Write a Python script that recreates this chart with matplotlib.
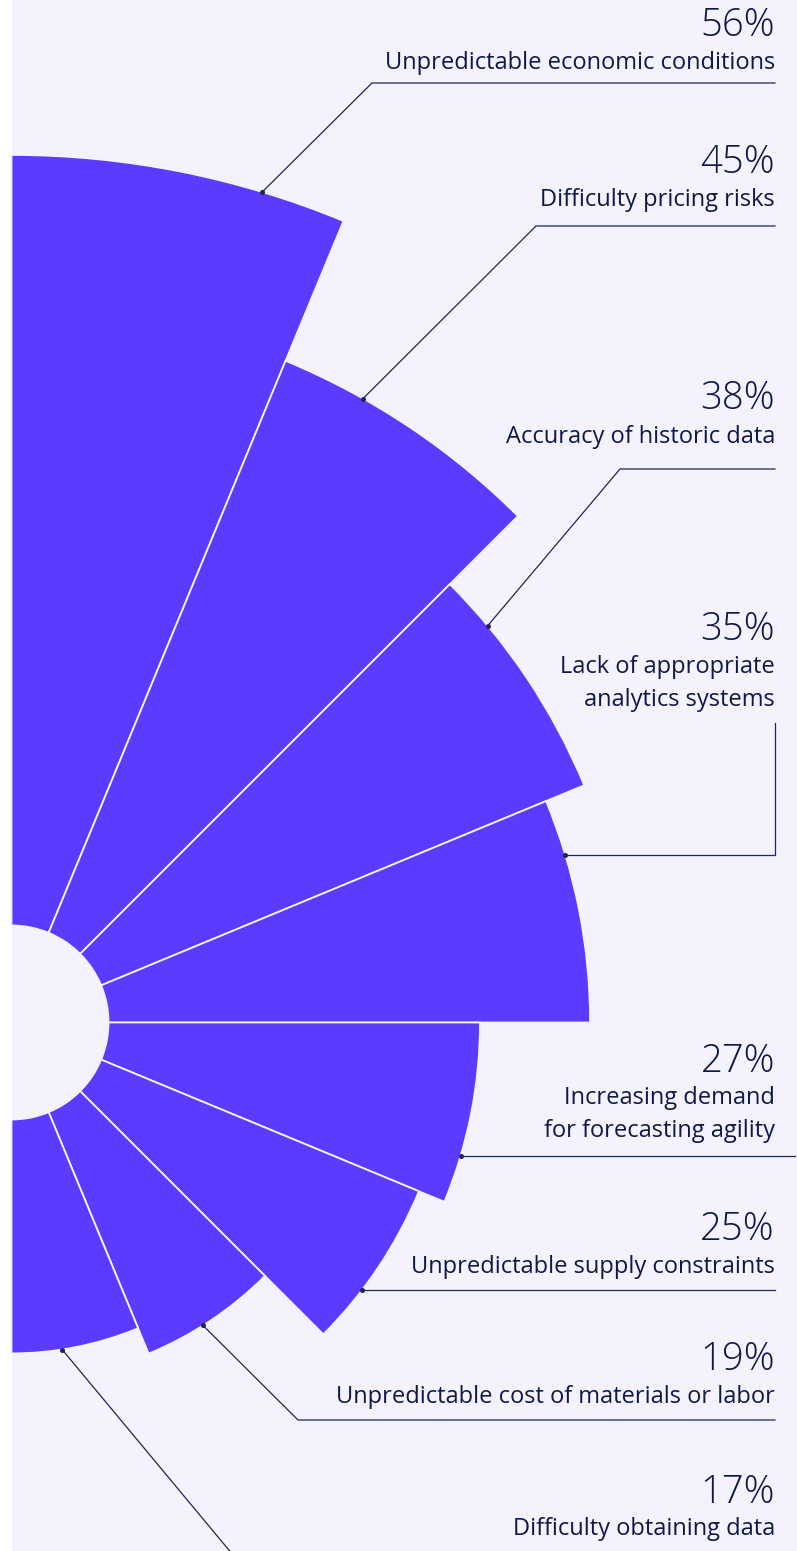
import numpy as np
import matplotlib
matplotlib.use("Agg")
import matplotlib.pyplot as plt

# --- data -------------------------------------------------------------
categories = [
    "Unpredictable economic conditions",
    "Difficulty pricing risks",
    "Accuracy of historic data",
    "Lack of appropriate\nanalytics systems",
    "Increasing demand\nfor forecasting agility",
    "Unpredictable supply constraints",
    "Unpredictable cost of materials or labor",
    "Difficulty obtaining data",
]
values = [56, 45, 38, 35, 27, 25, 19, 17]
value_labels = [f"{v}%" for v in values]

# --- style ------------------------------------------------------------
W, H, DPI = 797, 1551, 100
BG = "#F4F2FC"
BAR = "#5C3AFF"
INK = "#101848"
LINE = "#1E2656"
FONT = "Open Sans"

CX, CY = 11.5, 1022.5          # centre of the rose, pixels from top-left
PX_PER_UNIT = 13.76            # radial pixels per percentage point
HOLE = 97 / PX_PER_UNIT        # empty inner circle, in value units
RMAX = 70

fig = plt.figure(figsize=(W / DPI, H / DPI), dpi=DPI, facecolor="white")

# lavender panel behind everything
ax_bg = fig.add_axes([CX / W, 0, 1 - CX / W, 1], zorder=0)
ax_bg.set_facecolor(BG)
ax_bg.set_xticks([]); ax_bg.set_yticks([])
for s in ax_bg.spines.values():
    s.set_visible(False)

# polar axes, centred on (CX, CY)
R_PX = RMAX * PX_PER_UNIT
ax = fig.add_axes([(CX - R_PX) / W, (H - CY - R_PX) / H, 2 * R_PX / W, 2 * R_PX / H],
                  projection="polar", zorder=1)
ax.set_theta_zero_location("N")
ax.set_theta_direction(-1)
ax.set_rlim(0, RMAX)
ax.set_axis_off()

n = len(values)
step = np.pi / n
theta = (np.arange(n) + 0.5) * step
ax.bar(theta, values, width=step, bottom=HOLE, color=BAR,
       edgecolor=BG, linewidth=1.3, align="center")

# overlay in pixel coordinates for labels and leader lines
ov = fig.add_axes([0, 0, 1, 1], zorder=2)
ov.set_xlim(0, W)
ov.set_ylim(H, 0)
ov.set_axis_off()

# leader anchor angles on each bar's outer edge (degrees, clockwise from north)
anchor_deg = [16.8, 29.4, 50.2, 73.2, 106.5, 127.3, 147.7, 171.2]
# bend points of each leader after the anchor (pixels); None = anchor's y
leader_paths = [
    [(372, 83), (775, 83)],
    [(536, 226), (775, 226)],
    [(620, 469), (775, 469)],
    [(775, None), (775, 723)],
    [(795, None)],
    [(775, None)],
    [(298, 1420), (775, 1420)],
    [(243, 1567)],
]
# baselines of the percentage and of the first description line (pixels)
num_base = [36.5, 173.3, 409.3, 640, 1071.7, 1240, 1370, 1502.7]
lab_base = [69.3, 206, 443.3, 673.3, 1104, 1273.3, 1402.7, 1535]

to_ov = ov.transData.inverted()
for i in range(n):
    disp = ax.transData.transform((np.deg2rad(anchor_deg[i]), HOLE + values[i]))
    x0, y0 = to_ov.transform(disp)
    pts = [(x0, y0)] + [(px, y0 if py is None else py) for px, py in leader_paths[i]]
    xs, ys = zip(*pts)
    ov.plot(xs, ys, color=LINE, lw=0.9, solid_joinstyle="miter", clip_on=True)
    ov.plot([x0], [y0], "o", color=LINE, ms=2.6)

    ov.text(775, num_base[i], value_labels[i], ha="right", va="baseline",
            fontsize=27.5, fontweight="light", family=FONT, color=INK)
    for j, line in enumerate(categories[i].split("\n")):
        ov.text(775, lab_base[i] + 33 * j, line, ha="right", va="baseline",
                fontsize=17, family=FONT, color=INK)

fig.savefig("out.png", dpi=DPI, facecolor="white")
